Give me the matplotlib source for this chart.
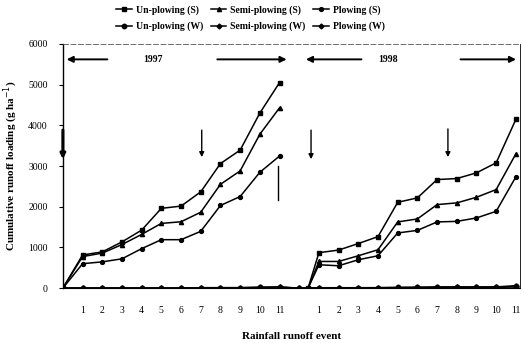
import numpy as np
import matplotlib
matplotlib.use('Agg')
import matplotlib.pyplot as plt

plt.rcParams['font.family'] = ['Liberation Serif', 'DejaVu Serif']

# event positions on the x axis (1997 block, then 1998 block)
x97 = [0, 1, 2, 3, 4, 5, 6, 7, 8, 9, 10, 11]
x98 = [12.45, 13, 14, 15, 16, 17, 18, 19, 20, 21, 22, 23]
x_w = [0, 1, 2, 3, 4, 5, 6, 7, 8, 9, 10, 11, 12,
       13, 14, 15, 16, 17, 18, 19, 20, 21, 22, 23]
tick_pos = [1, 2, 3, 4, 5, 6, 7, 8, 9, 10, 11,
            13, 14, 15, 16, 17, 18, 19, 20, 21, 22, 23]
tick_lab = ['1', '2', '3', '4', '5', '6', '7', '8', '9', '10', '11',
            '1', '2', '3', '4', '5', '6', '7', '8', '9', '10', '11']

# cumulative runoff loading, g/ha
un_s_97 = [0, 815, 890, 1135, 1425, 1960, 2015, 2365, 3060, 3390, 4300, 5050]
semi_s_97 = [0, 775, 860, 1070, 1320, 1590, 1630, 1865, 2550, 2880, 3780, 4430]
plow_s_97 = [0, 600, 645, 720, 970, 1190, 1190, 1395, 2030, 2250, 2845, 3245]

un_s_98 = [0, 870, 935, 1095, 1265, 2108, 2217, 2667, 2692, 2832, 3079, 4145]
semi_s_98 = [0, 655, 655, 795, 943, 1626, 1700, 2052, 2094, 2232, 2421, 3300]
plow_s_98 = [0, 574, 549, 697, 795, 1355, 1419, 1626, 1640, 1724, 1887, 2734]

un_w = [0, 0, 0, 0, 0, 0, 0, 10, 10, 10, 20, 30, 0,
        10, 10, 10, 10, 20, 20, 30, 30, 30, 30, 60]
semi_w = [0, 0, 0, 0, 0, 0, 0, 10, 10, 10, 20, 20, 0,
          0, 0, 10, 10, 10, 20, 20, 20, 20, 20, 40]
plow_w = [0, 0, 0, 0, 0, 0, 0, 0, 10, 10, 10, 20, 0,
          0, 0, 0, 10, 10, 10, 10, 20, 20, 20, 30]

fig = plt.figure(figsize=(5.24, 3.43), dpi=100)
ax = fig.add_axes([0.120, 0.160, 0.872, 0.712])

k = dict(color='black', lw=1.1)
h1, = ax.plot(x97, un_s_97, marker='s', ms=3.5, label='Un-plowing (S)', **k)
ax.plot(x98, un_s_98, marker='s', ms=3.5, **k)
h2, = ax.plot(x97, semi_s_97, marker='^', ms=3, label='Semi-plowing (S)', **k)
ax.plot(x98, semi_s_98, marker='^', ms=3, **k)
h3, = ax.plot(x97, plow_s_97, marker='o', ms=2.8, label='Plowing (S)', **k)
ax.plot(x98, plow_s_98, marker='o', ms=2.8, **k)
h4, = ax.plot(x_w, un_w, marker='o', ms=3.2, label='Un-plowing (W)', **k)
h5, = ax.plot(x_w, semi_w, marker='D', ms=2.5, label='Semi-plowing (W)', **k)
h6, = ax.plot(x_w, plow_w, marker='D', ms=2.5, label='Plowing (W)', **k)

ax.set_xlim(0, 23.2)
ax.set_ylim(0, 6000)
ax.set_yticks([0, 1000, 2000, 3000, 4000, 5000, 6000])
ax.set_xticks(tick_pos)
ax.set_xticklabels(tick_lab)
ax.tick_params(axis='x', length=0, pad=13, labelsize=7)
ax.tick_params(axis='y', length=3, direction='out', labelsize=7, pad=8)
ax.spines['top'].set_linestyle((0, (6, 3)))
ax.spines['top'].set_linewidth(0.6)
ax.spines['top'].set_color('#555555')
ax.spines['right'].set_linewidth(0.6)
ax.spines['left'].set_linewidth(1.0)

ax.set_ylabel('Cumulative runoff loading (g ha$^{-1}$)', fontsize=8,
              fontweight='bold', labelpad=6)
ax.set_xlabel('Rainfall runoff event', fontsize=8, fontweight='bold', labelpad=12)

# year spans
ap = dict(arrowstyle='-|>', color='black', lw=1.4, mutation_scale=9)
ya = 5620
ax.annotate('', xy=(0.05, ya), xytext=(2.4, ya), arrowprops=ap)
ax.annotate('', xy=(11.5, ya), xytext=(7.7, ya), arrowprops=ap)
ax.text(4.55, ya, '1997', ha='center', va='center', fontsize=7, fontweight='bold')
ax.annotate('', xy=(12.2, ya), xytext=(15.3, ya), arrowprops=ap)
ax.annotate('', xy=(23.15, ya), xytext=(20.05, ya), arrowprops=ap)
ax.text(16.5, ya, '1998', ha='center', va='center', fontsize=7, fontweight='bold')

# event markers
ap2 = dict(arrowstyle='-|>', color='black', lw=1.0, mutation_scale=7)
ax.annotate('', xy=(0.0, 3100), xytext=(0.0, 3950),
            arrowprops=dict(arrowstyle='-|>', color='black', lw=2.2, mutation_scale=7))
ax.annotate('', xy=(7.05, 3150), xytext=(7.05, 3950), arrowprops=ap2)
ax.annotate('', xy=(12.6, 3100), xytext=(12.6, 3950), arrowprops=ap2)
ax.annotate('', xy=(19.55, 3150), xytext=(19.55, 3980), arrowprops=ap2)
ax.plot([10.9, 10.9], [2175, 2990], color='black', lw=1.0)

fig.legend(handles=[h1, h4, h2, h5, h3, h6], ncol=3, loc='center',
           bbox_to_anchor=(0.478, 0.947), frameon=False,
           prop=dict(weight='bold', size=7), handlelength=1.6,
           columnspacing=0.8, labelspacing=0.75, handletextpad=0.4)

fig.savefig('out.png', dpi=100)
